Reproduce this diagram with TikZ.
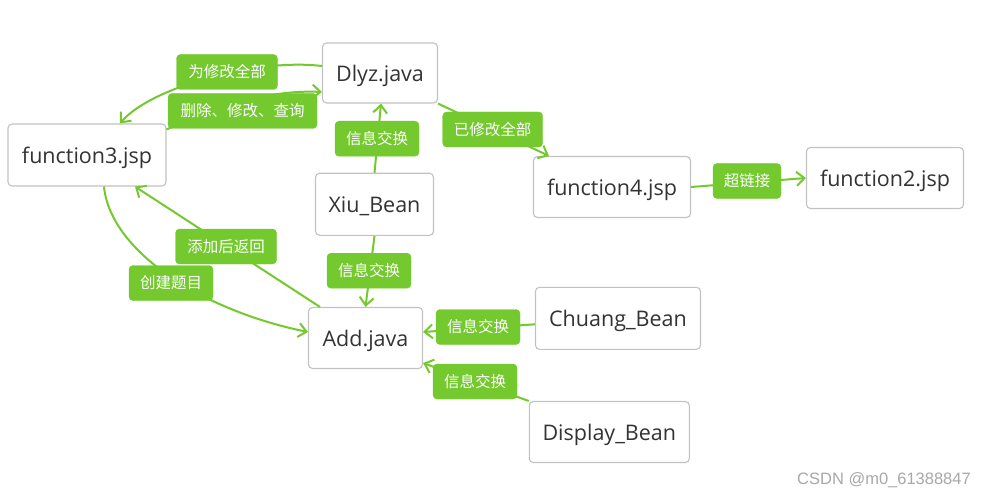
\documentclass[tikz,border=0pt]{standalone}
\usepackage{fontspec}
\setmainfont{Open Sans}
\newfontfamily\cjk{Noto Sans CJK SC}
\newfontfamily\wmfont{Liberation Sans}
\usetikzlibrary{arrows.meta}
\definecolor{lgreen}{HTML}{74C92E}
\definecolor{boxborder}{HTML}{C2C2C2}
\definecolor{boxtext}{HTML}{333333}
\definecolor{wmgray}{HTML}{A8A8A8}
\tikzset{
  box/.style={draw=boxborder, line width=1.1pt, fill=white, rounded corners=4pt,
    inner sep=0pt, text=boxtext, font=\fontsize{21.5}{24}\selectfont,
    text height=20pt, text depth=3pt},
  lbl/.style={fill=lgreen, draw=lgreen, rounded corners=4pt, inner sep=0pt,
    text=white, font=\cjk\fontsize{15.5}{18}\selectfont, minimum height=35pt},
  link/.style={draw=lgreen, line width=2pt},
  arr/.style={link, -{Straight Barb[length=8pt,width=14pt,line width=2pt]}},
}
\begin{document}
\begin{tikzpicture}[x=1pt,y=-1pt]
\useasboundingbox[fill=white] (0,0) rectangle (987,497);
% boxes
\node[box, minimum width=158pt, minimum height=62pt] (f3) at (87,155) {function3.jsp};
\node[box, minimum width=115pt, minimum height=60pt] (dlyz) at (380,73) {Dlyz.java};
\node[box, minimum width=118pt, minimum height=62pt] (xiu) at (374.5,204.3) {Xiu\_Bean};
\node[box, minimum width=157pt, minimum height=61pt] (f4) at (612,187) {function4.jsp};
\node[box, minimum width=157pt, minimum height=61pt] (f2) at (885,178) {function2.jsp};
\node[box, minimum width=114pt, minimum height=61pt] (add) at (365.5,338) {Add.java};
\node[box, minimum width=165pt, minimum height=62pt] (chuang) at (618,318.3) {Chuang\_Bean};
\node[box, minimum width=160pt, minimum height=61pt] (disp) at (609.3,432) {Display\_Bean};
% connectors
\draw[arr] ([yshift=7]dlyz.west) .. controls (255,58) and (150,88) .. ([xshift=33]f3.north);
\draw[arr] ([yshift=-6]f3.north east) .. controls (230,100) and (280,90) .. ([yshift=-19]dlyz.west);
\draw[arr] (dlyz.south east) -- ([xshift=-63]f4.north);
\draw[arr] (xiu.north) -- ([xshift=1]dlyz.south);
\draw[arr] (xiu.south) -- (add.north);
\draw[arr] ([xshift=12]add.north west) -- ([xshift=48]f3.south);
\draw[arr] ([xshift=17]f3.south) .. controls (110,250) and (200,310) .. ([yshift=6]add.west);
\draw[arr] (f4.east) -- (f2.west);
\draw[arr] ([yshift=-6]chuang.west) -- ([yshift=6]add.east);
\draw[arr] (disp.north west) -- ([yshift=6]add.south east);
% labels
\node[lbl, minimum width=101pt] (l1) at (227,72) {为修改全部};
\node[lbl, minimum width=149pt] (l2) at (242.5,111) {删除、修改、查询};
\node[lbl, minimum width=100pt] (l3) at (492.7,129.5) {已修改全部};
\node[lbl, minimum width=84pt] (l4) at (377,138.7) {信息交换};
\node[lbl, minimum width=84pt] (l5) at (369,270.7) {信息交换};
\node[lbl, minimum width=101pt] (l6) at (226,246.5) {添加后返回};
\node[lbl, minimum width=84pt] (l7) at (171,283) {创建题目};
\node[lbl, minimum width=68pt] (l8) at (747,181) {超链接};
\node[lbl, minimum width=84pt] (l9) at (478,327) {信息交换};
\node[lbl, minimum width=84pt] (l10) at (475,381.5) {信息交换};
% watermark
\node[text=wmgray, font=\wmfont\fontsize{16.5}{18}\selectfont, inner sep=0pt] (wm) at (884,480) {CSDN @m0\_61388847};
\end{tikzpicture}
\end{document}
